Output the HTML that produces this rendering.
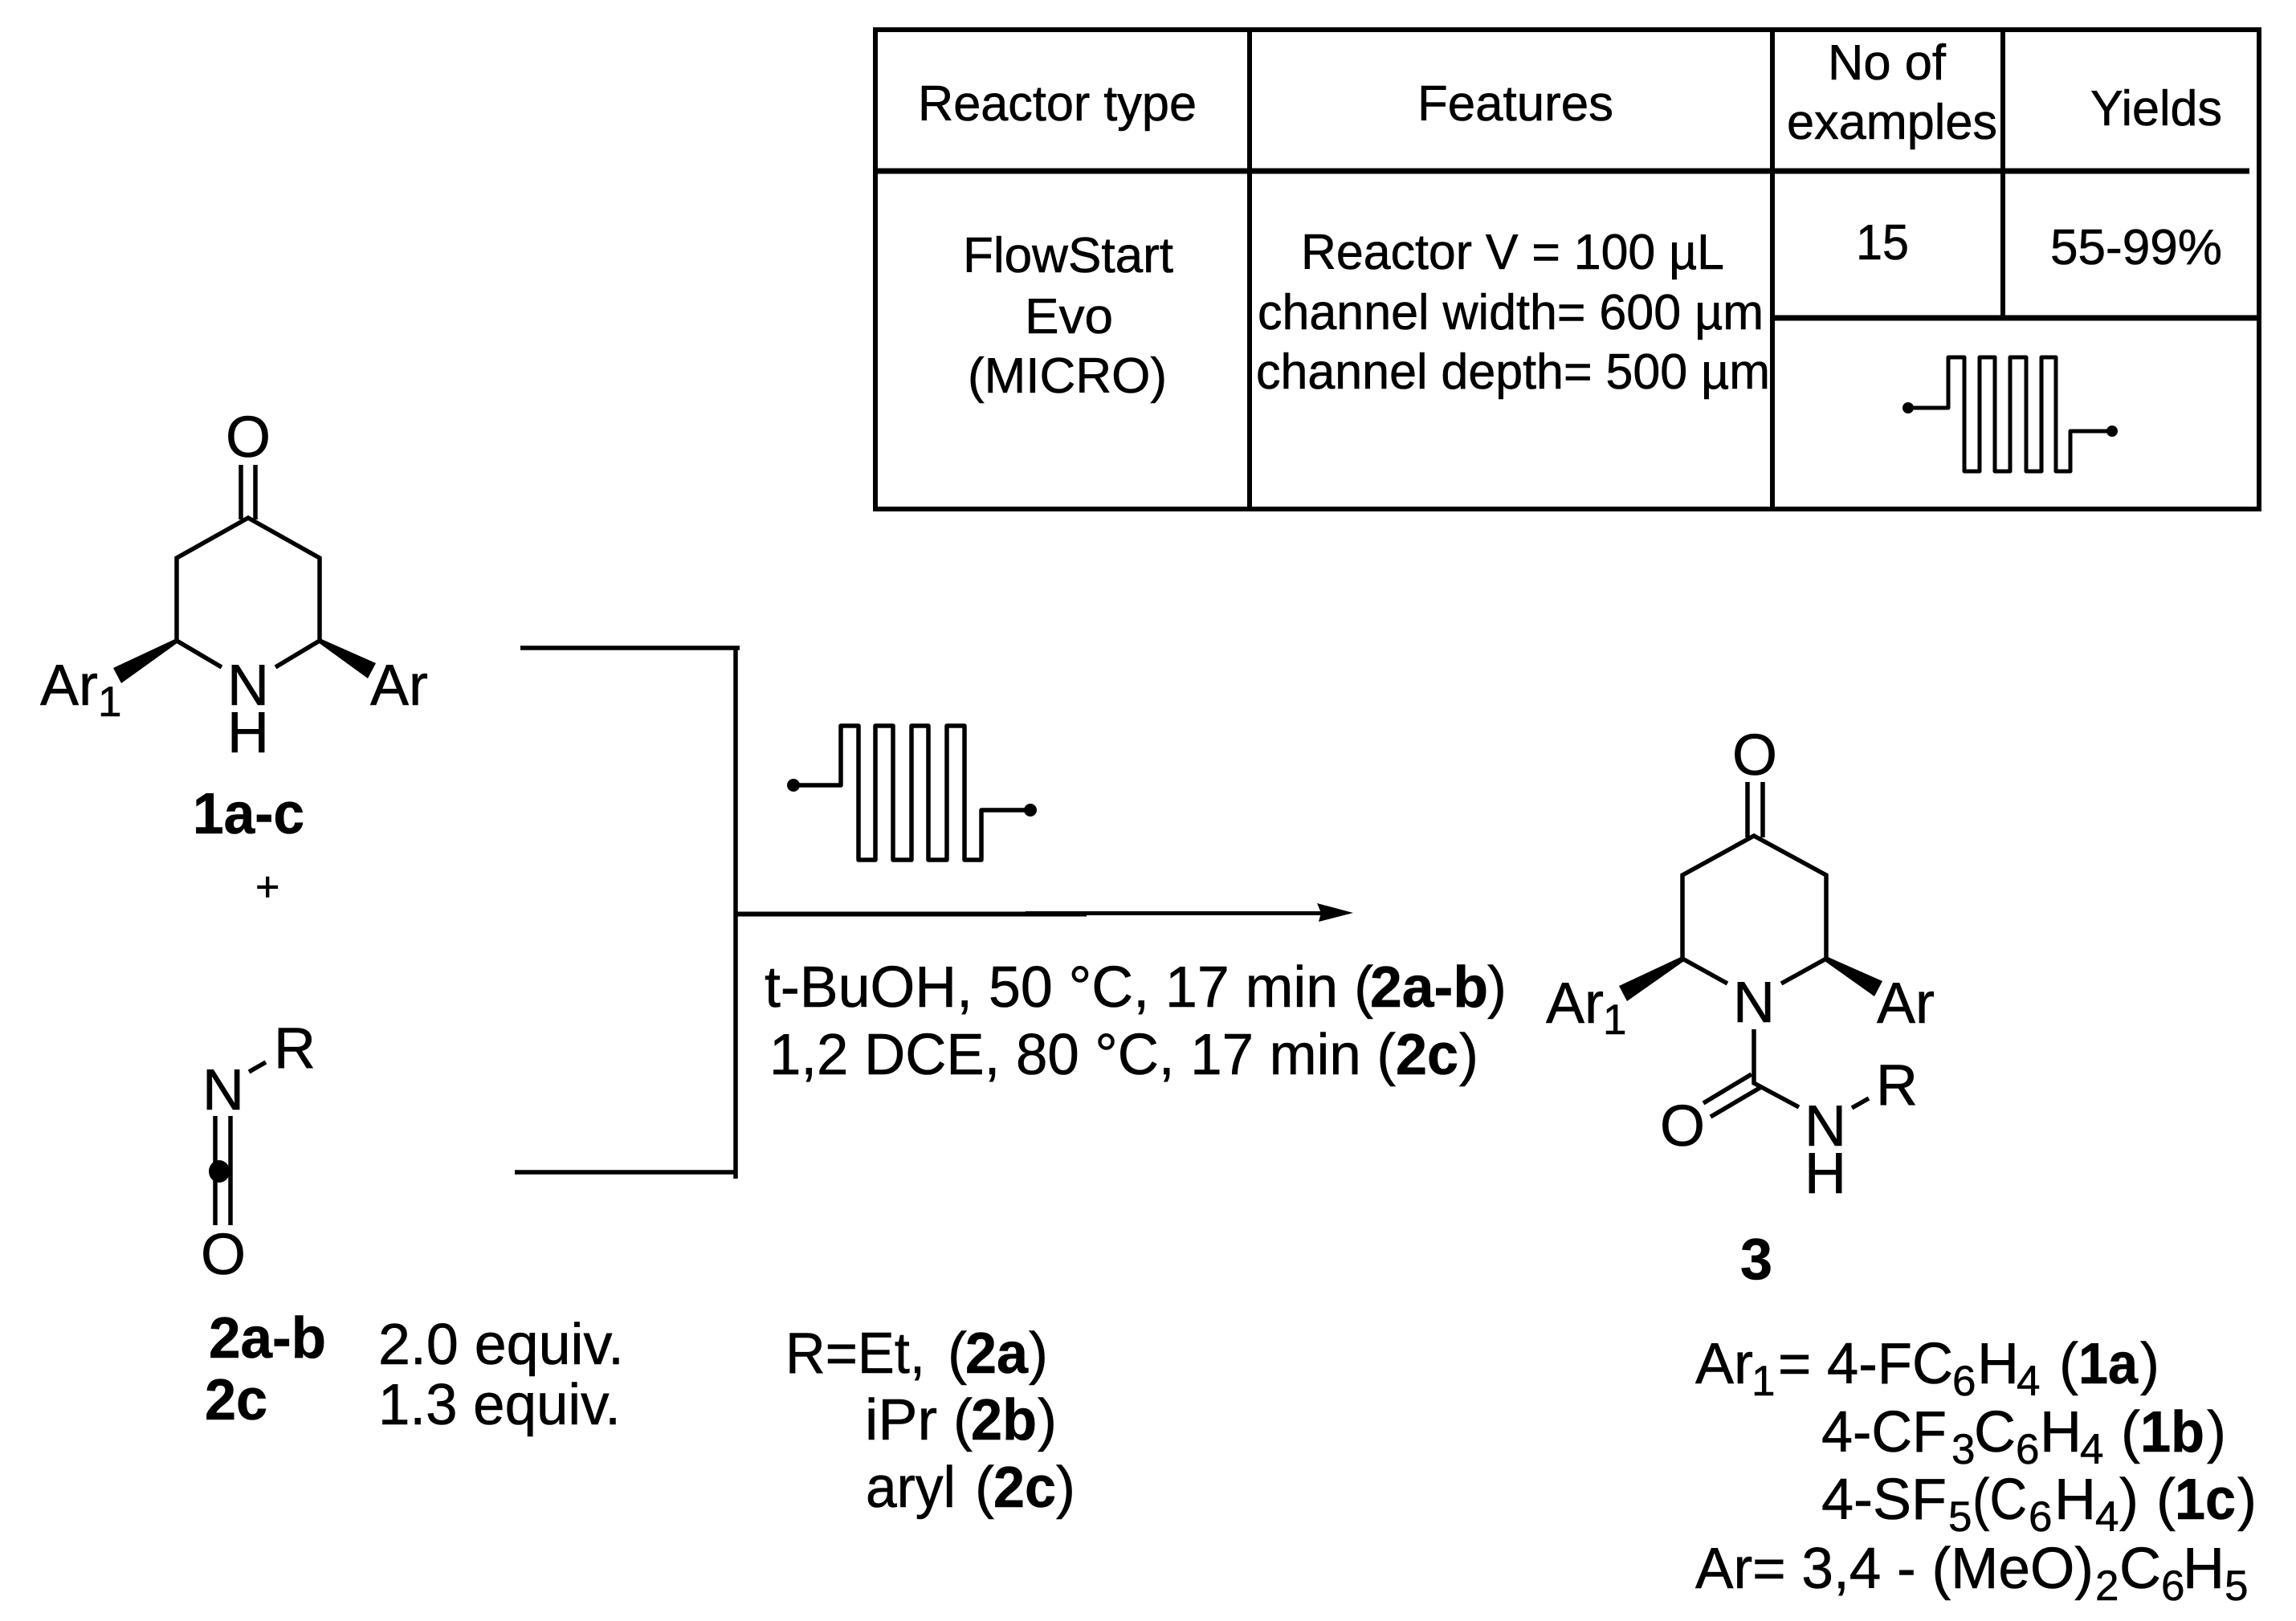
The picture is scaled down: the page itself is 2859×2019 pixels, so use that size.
<!DOCTYPE html>
<html><head><meta charset="utf-8"><style>
html,body{margin:0;padding:0;background:#fff;width:2859px;height:2019px;overflow:hidden}
svg{display:block}
text{font-family:"Liberation Sans",Arial,sans-serif;fill:#000;stroke:#000;stroke-width:.6px}
.t{font-size:62px}.m{font-size:72px}.b{font-size:72px;font-weight:bold}.s{font-size:53px}
</style></head><body>
<svg width="2859" height="2019" viewBox="0 0 2859 2019" xmlns="http://www.w3.org/2000/svg">
<rect width="2859" height="2019" fill="#fff" stroke="none"/>
<!-- table -->
<g stroke="#000" stroke-width="6" fill="none">
<path d="M1090 37H2814M1090 634H2814M1090 34V637M2813 34V637M1556 37V634M2207 37V634M2494 37V395"/>
<path d="M1090 213H2801M2207 396H2813" stroke-width="7"/>
</g>
<text class="t" x="1143" y="150" textLength="347" lengthAdjust="spacingAndGlyphs">Reactor type</text>
<text class="t" x="1765" y="150" textLength="244" lengthAdjust="spacingAndGlyphs">Features</text>
<text class="t" x="2276" y="99" textLength="147" lengthAdjust="spacingAndGlyphs">No of</text>
<text class="t" x="2225" y="173" textLength="262" lengthAdjust="spacingAndGlyphs">examples</text>
<text class="t" x="2603" y="156" textLength="164" lengthAdjust="spacingAndGlyphs">Yields</text>
<text class="t" x="1199" y="339" textLength="262" lengthAdjust="spacingAndGlyphs">FlowStart</text>
<text class="t" x="1276" y="415" textLength="110" lengthAdjust="spacingAndGlyphs">Evo</text>
<text class="t" x="1205" y="489" textLength="248" lengthAdjust="spacingAndGlyphs">(MICRO)</text>
<text class="t" x="1620" y="335" textLength="527" lengthAdjust="spacingAndGlyphs">Reactor V = 100 µL</text>
<text class="t" x="1566" y="410" textLength="630" lengthAdjust="spacingAndGlyphs">channel width= 600 µm</text>
<text class="t" x="1564" y="484" textLength="640" lengthAdjust="spacingAndGlyphs">channel depth= 500 µm</text>
<text class="t" x="2311" y="323" textLength="66" lengthAdjust="spacingAndGlyphs">15</text>
<text class="t" x="2553" y="329" textLength="214" lengthAdjust="spacingAndGlyphs">55-99%</text>
<!-- small reactor -->
<path fill="none" stroke="#000" stroke-width="5" stroke-linejoin="round" d="M2376 508H2426V445H2446V587H2465V445H2484V587H2503V445H2523V587H2542V445H2560V587H2578V537H2630"/>
<circle cx="2376" cy="508" r="7"/><circle cx="2630" cy="537" r="7"/>
<!-- bracket -->
<g stroke="#000" stroke-width="5.5" fill="none">
<path d="M648 807H921M916 805V1468M641 1460H916"/>
<path d="M916 1138.5H1353" stroke-width="6"/><path d="M1277 1137.5H1650" stroke-width="5"/>
</g>
<polygon points="1685,1137 1640,1125 1645,1137 1642,1148"/>
<!-- big reactor -->
<path fill="none" stroke="#000" stroke-width="5.5" stroke-linejoin="round" d="M988 978H1047V904H1069V1071H1090V904H1112V1071H1135V904H1156V1071H1179V904H1201V1071H1222V1009H1283"/>
<circle cx="988" cy="978" r="8"/><circle cx="1283" cy="1009" r="8"/>
<!-- conditions -->
<text class="m" x="952" y="1254" textLength="758" lengthAdjust="spacingAndGlyphs">t-BuOH, 50 °C, 17 min (</text>
<text class="b" x="1706" y="1254" textLength="147" lengthAdjust="spacingAndGlyphs">2a-b</text>
<text class="m" x="1852" y="1254">)</text>
<text class="m" x="958" y="1338" textLength="780" lengthAdjust="spacingAndGlyphs">1,2 DCE, 80 °C, 17 min (</text>
<text class="b" x="1738" y="1338" textLength="78" lengthAdjust="spacingAndGlyphs">2c</text>
<text class="m" x="1817" y="1338">)</text>
<!-- molecule 1 -->
<g stroke="#000" stroke-width="5.5" fill="none">
<path d="M276 831L220 798V695L309 645L398 695V798L343 831"/>
<path d="M300 579V647M318 579V647"/>
</g>
<polygon points="220,795 141,832 151,851 222,800"/><polygon points="398,795 468,826 458,845 396,800"/>
<text class="m" x="281" y="569">O</text>
<text class="m" x="283" y="878">N</text>
<text class="m" x="283" y="937">H</text>
<text class="m" x="50" y="878">Ar</text><text class="s" x="122" y="892">1</text>
<text class="m" x="461" y="878">Ar</text>
<text class="b" x="240" y="1038" textLength="139" lengthAdjust="spacingAndGlyphs">1a-c</text>
<text x="318" y="1122" style="font-size:52px">+</text>
<!-- molecule 2 -->
<g stroke="#000" stroke-width="5.5" fill="none">
<path d="M310 1335L331 1323M268 1390V1526M287 1390V1526"/>
</g>
<ellipse cx="273" cy="1459" rx="13" ry="14"/>
<text class="m" x="252" y="1382">N</text>
<text class="m" x="341" y="1330">R</text>
<text class="m" x="250" y="1587">O</text>
<text class="b" x="260" y="1691" textLength="146" lengthAdjust="spacingAndGlyphs">2a-b</text>
<text class="b" x="255" y="1768" textLength="78" lengthAdjust="spacingAndGlyphs">2c</text>
<text class="m" x="471" y="1699" textLength="306" lengthAdjust="spacingAndGlyphs">2.0 equiv.</text>
<text class="m" x="471" y="1774" textLength="302" lengthAdjust="spacingAndGlyphs">1.3 equiv.</text>
<!-- R list -->
<text class="m" x="978" y="1710" textLength="174" lengthAdjust="spacingAndGlyphs">R=Et,</text>
<text class="m" x="1180" y="1710">(</text><text class="b" x="1202" y="1710" textLength="78" lengthAdjust="spacingAndGlyphs">2a</text><text class="m" x="1281" y="1710">)</text>
<text class="m" x="1077" y="1793" textLength="90" lengthAdjust="spacingAndGlyphs">iPr</text>
<text class="m" x="1187" y="1793">(</text><text class="b" x="1209" y="1793" textLength="82" lengthAdjust="spacingAndGlyphs">2b</text><text class="m" x="1292" y="1793">)</text>
<text class="m" x="1078" y="1877" textLength="112" lengthAdjust="spacingAndGlyphs">aryl</text>
<text class="m" x="1214" y="1877">(</text><text class="b" x="1237" y="1877" textLength="78" lengthAdjust="spacingAndGlyphs">2c</text><text class="m" x="1315" y="1877">)</text>
<!-- molecule 3 -->
<g stroke="#000" stroke-width="5.5" fill="none">
<path d="M2151 1225L2095 1194V1090L2184 1041L2274 1090V1194L2218 1225"/>
<path d="M2176 974V1043M2195 974V1043M2184 1282V1349L2240 1379M2181 1338L2121 1374M2193 1354L2130 1391M2306 1380L2327 1368"/>
</g>
<polygon points="2095,1191 2016,1228 2026,1247 2097,1197"/><polygon points="2274,1191 2344,1222 2334,1241 2272,1197"/>
<text class="m" x="2157" y="965">O</text>
<text class="m" x="2158" y="1273">N</text>
<text class="m" x="2067" y="1427">O</text>
<text class="m" x="2247" y="1427">N</text>
<text class="m" x="2247" y="1486">H</text>
<text class="m" x="2336" y="1376">R</text>
<text class="m" x="1925" y="1274">Ar</text><text class="s" x="1996" y="1288">1</text>
<text class="m" x="2337" y="1274">Ar</text>
<text class="b" x="2167" y="1593">3</text>
<!-- Ar list -->
<text class="m" x="2111" y="1723">Ar</text><text class="s" x="2181" y="1738">1</text>
<text class="m" x="2214" y="1723" textLength="218" lengthAdjust="spacingAndGlyphs">= 4-FC</text>
<text class="s" x="2431" y="1738">6</text><text class="m" x="2462" y="1723">H</text><text class="s" x="2511" y="1738">4</text>
<text class="m" x="2564" y="1723">(</text><text class="b" x="2588" y="1723" textLength="74" lengthAdjust="spacingAndGlyphs">1a</text><text class="m" x="2665" y="1723">)</text>
<text class="m" x="2268" y="1808" textLength="156" lengthAdjust="spacingAndGlyphs">4-CF</text><text class="s" x="2430" y="1823">3</text>
<text class="m" x="2458" y="1808">C</text><text class="s" x="2510" y="1823">6</text><text class="m" x="2540" y="1808">H</text><text class="s" x="2590" y="1823">4</text>
<text class="m" x="2641" y="1808">(</text><text class="b" x="2665" y="1808" textLength="80" lengthAdjust="spacingAndGlyphs">1b</text><text class="m" x="2748" y="1808">)</text>
<text class="m" x="2268" y="1892" textLength="156" lengthAdjust="spacingAndGlyphs">4-SF</text><text class="s" x="2426" y="1907">5</text>
<text class="m" x="2456" y="1892" textLength="68" lengthAdjust="spacingAndGlyphs">(C</text><text class="s" x="2526" y="1907">6</text><text class="m" x="2558" y="1892">H</text><text class="s" x="2609" y="1907">4</text>
<text class="m" x="2639" y="1892">)</text><text class="m" x="2685" y="1892">(</text><text class="b" x="2708" y="1892" textLength="76" lengthAdjust="spacingAndGlyphs">1c</text><text class="m" x="2786" y="1892">)</text>
<text class="m" x="2111" y="1978" textLength="496" lengthAdjust="spacingAndGlyphs">Ar= 3,4 - (MeO)</text><text class="s" x="2609" y="1993">2</text>
<text class="m" x="2639" y="1978">C</text><text class="s" x="2691" y="1993">6</text><text class="m" x="2718" y="1978">H</text><text class="s" x="2770" y="1993">5</text>
</svg>
</body></html>
